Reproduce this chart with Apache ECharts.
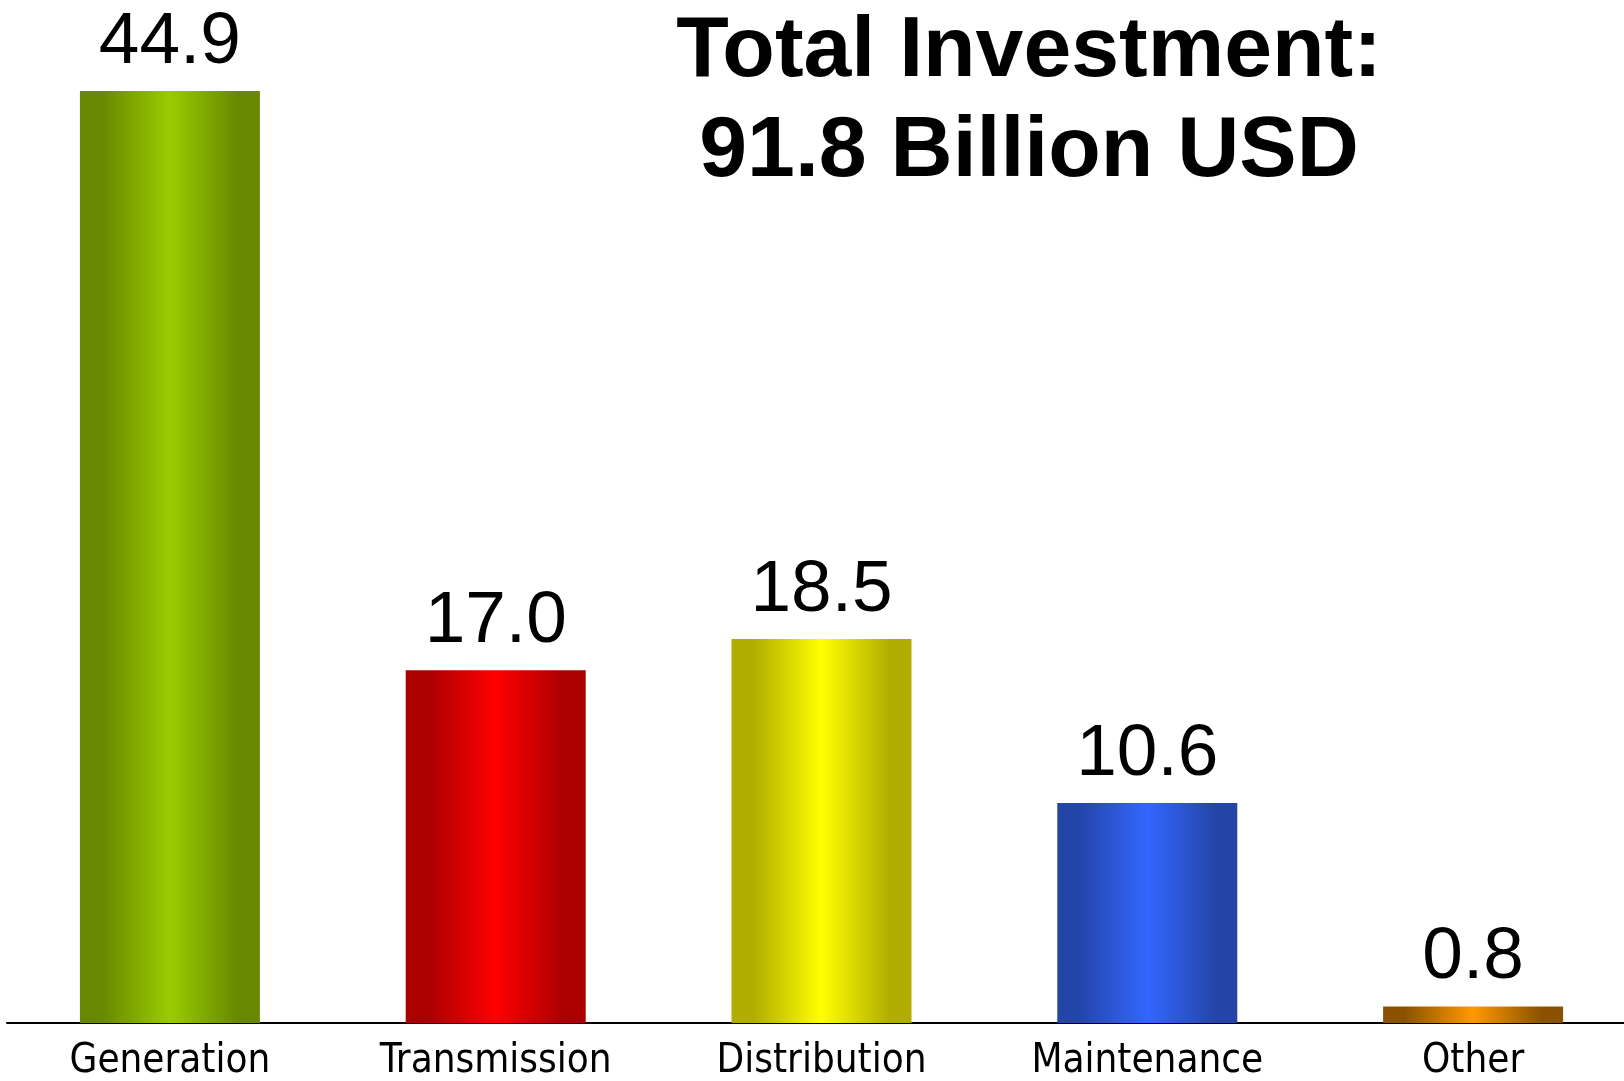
<!DOCTYPE html>
<html>
<head>
<meta charset="utf-8">
<title>Total Investment</title>
<script src="https://cdn.jsdelivr.net/npm/echarts@6/dist/echarts.min.js"></script>
<style>
  html, body { margin: 0; padding: 0; background: #ffffff; }
  #chart { width: 1624px; height: 1081px; }
</style>
</head>
<body>
<div id="chart"></div>
<script>
// Investment by segment, billion USD
const categories = ['Generation', 'Transmission', 'Distribution', 'Maintenance', 'Other'];
const values = [44.9, 17.0, 18.5, 10.6, 0.8];
const titleLines = ['Total Investment:', '91.8 Billion USD'];

// edge / centre colours of each cylinder-style bar
const edgeColors = ['#678800', '#aa0000', '#b0ad00', '#2445a8', '#8a5200'];
const midColors = ['#99cc00', '#ff0000', '#ffff00', '#3366ff', '#ff9900'];

function barGradient(i) {
  return new echarts.graphic.LinearGradient(0, 0, 1, 0, [
    { offset: 0, color: edgeColors[i] },
    { offset: 0.12, color: edgeColors[i] },
    { offset: 0.5, color: midColors[i] },
    { offset: 0.88, color: edgeColors[i] },
    { offset: 1, color: edgeColors[i] }
  ]);
}

const chart = echarts.init(document.getElementById('chart'), null, { renderer: 'canvas' });

chart.setOption({
  animation: false,
  backgroundColor: '#ffffff',
  title: {
    text: titleLines.join('\n'),
    left: 1024,
    top: -3,
    textAlign: 'center',
    textStyle: {
      fontFamily: 'Liberation Sans, Arial, sans-serif',
      fontWeight: 'bold',
      fontSize: 86,
      lineHeight: 100,
      color: '#000000'
    }
  },
  grid: {
    left: 7, width: 1629, top: 91, bottom: 58,
    containLabel: false,
    outerBoundsMode: 'none'
  },
  xAxis: {
    type: 'category',
    data: categories,
    axisLine: { show: true, lineStyle: { color: '#000000', width: 2 } },
    axisTick: { show: false },
    axisLabel: {
      margin: 19,
      fontFamily: 'DejaVu Sans Condensed, DejaVu Sans, sans-serif',
      fontSize: 40,
      color: '#000000'
    }
  },
  yAxis: {
    type: 'value',
    min: 0,
    max: 'dataMax',
    show: false,
    splitLine: { show: false }
  },
  series: [{
    type: 'bar',
    barWidth: 180,
    data: values.map((v, i) => ({
      value: v,
      itemStyle: { color: barGradient(i) }
    })),
    label: {
      show: true,
      position: 'top',
      distance: 12,
      formatter: p => p.value.toFixed(1),
      fontFamily: 'Liberation Sans, Arial, sans-serif',
      fontSize: 73,
      color: '#000000'
    }
  }]
});
</script>
</body>
</html>
